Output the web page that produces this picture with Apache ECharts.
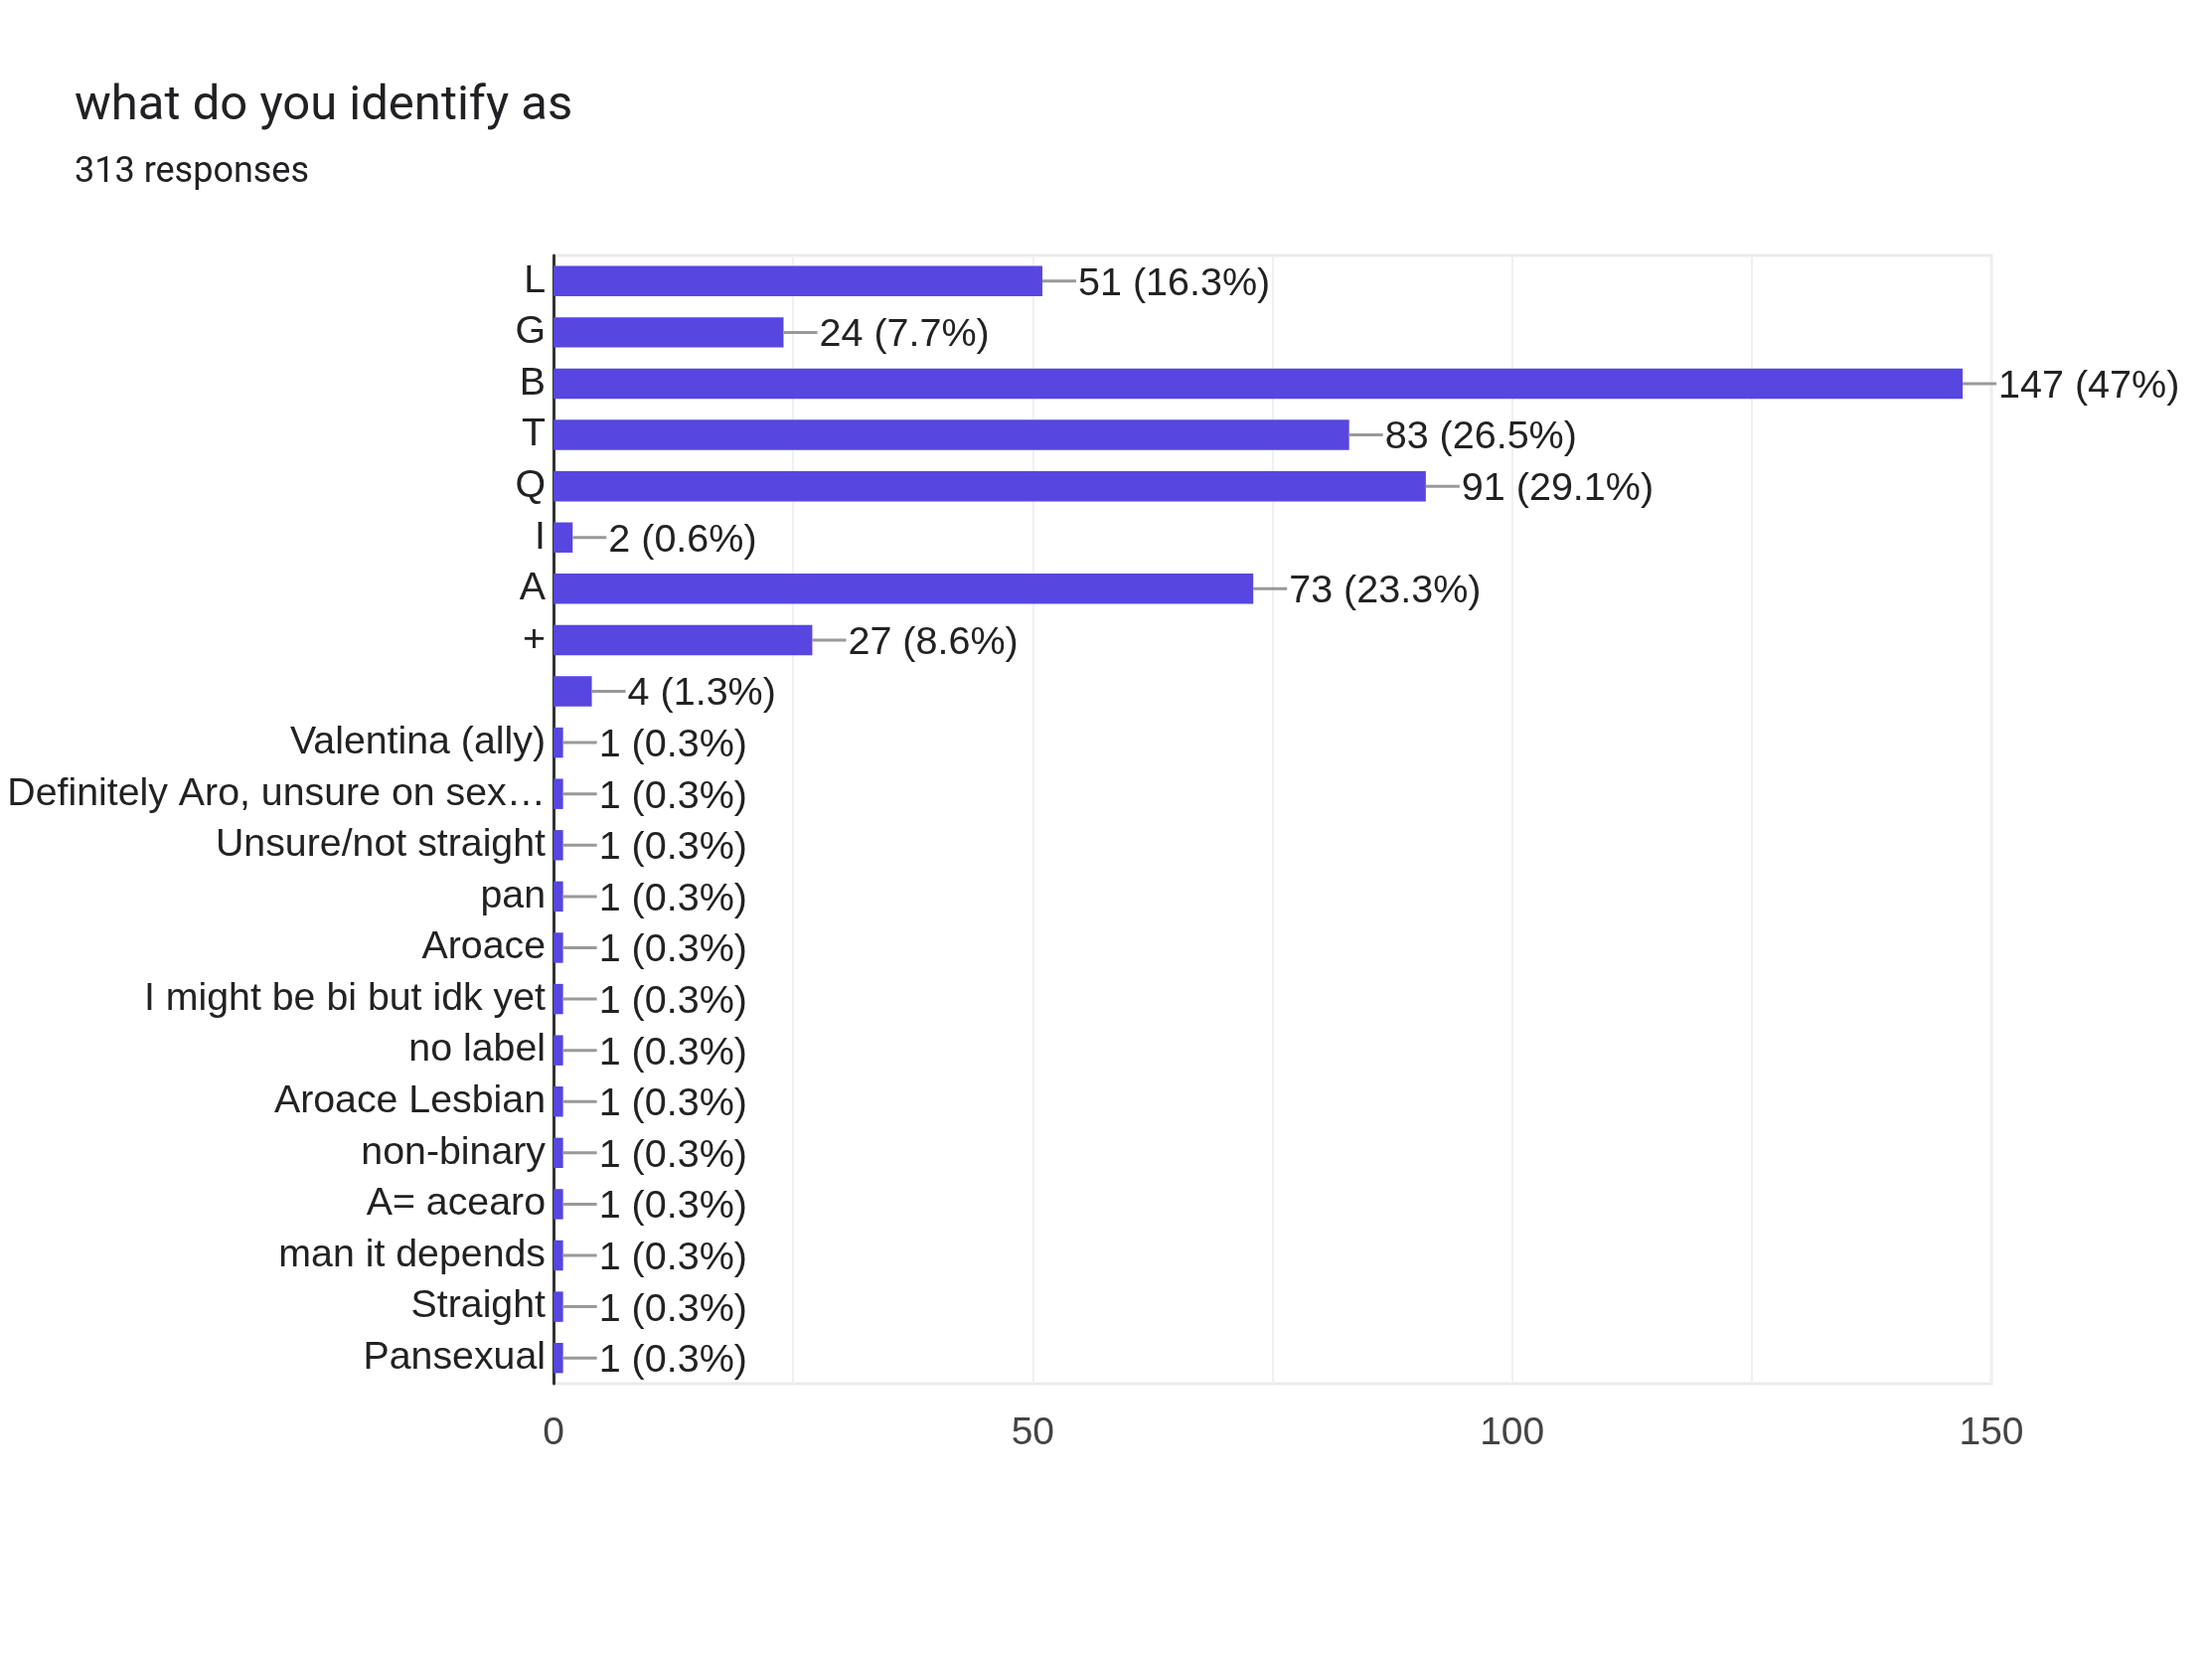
<!DOCTYPE html>
<html>
<head>
<meta charset="utf-8">
<script src="https://cdn.jsdelivr.net/npm/echarts@6/dist/echarts.min.js"></script>
<style>
  html, body { margin: 0; padding: 0; background: #fff; }
  #chart { width: 2226px; height: 1666px; }
</style>
</head>
<body>
<div id="chart"></div>
<script>
// answers, top to bottom
var categories = ['L', 'G', 'B', 'T', 'Q', 'I', 'A', '+', '',
  'Valentina (ally)', 'Definitely Aro, unsure on sex\u2026', 'Unsure/not straight',
  'pan', 'Aroace', 'I might be bi but idk yet', 'no label', 'Aroace Lesbian',
  'non-binary', 'A= acearo', 'man it depends', 'Straight', 'Pansexual'];
var counts = [51, 24, 147, 83, 91, 2, 73, 27, 4,
  1, 1, 1, 1, 1, 1, 1, 1, 1, 1, 1, 1, 1];
var percents = ['16.3', '7.7', '47', '26.5', '29.1', '0.6', '23.3', '8.6', '1.3',
  '0.3', '0.3', '0.3', '0.3', '0.3', '0.3', '0.3', '0.3', '0.3', '0.3', '0.3', '0.3', '0.3'];
var xTicks = [0, 50, 100, 150];

var chart = echarts.init(document.getElementById('chart'));

var labelFont = '"Liberation Sans", Arial, sans-serif';

// little gray line between bar end and its label
var leaderData = counts.map(function (v, i) { return [v, i]; });

var option = {
  backgroundColor: '#fff',
  animation: false,
  title: {
    text: 'what do you identify as',
    subtext: '313 responses',
    left: 70,
    top: 78,
    itemGap: 24,
    textStyle: { fontFamily: 'Roboto', fontWeight: 'normal', fontSize: 49, color: '#202124' },
    subtextStyle: { fontFamily: 'Roboto', fontSize: 36, color: '#202124' }
  },
  grid: {
    left: 557, right: 222, top: 257, bottom: 274,
    outerBoundsMode: 'none',
    show: true, borderColor: '#ebebeb', borderWidth: 3
  },
  xAxis: {
    type: 'value',
    min: 0, max: 150, interval: 25,
    axisLine: { show: false },
    axisTick: { show: false },
    splitLine: { lineStyle: { color: '#f0f0f0', width: 2 } },
    axisLabel: {
      fontFamily: labelFont, fontSize: 39, color: '#444', margin: 31,
      formatter: function (v) { return xTicks.indexOf(v) >= 0 ? String(v) : ''; }
    }
  },
  yAxis: {
    type: 'category',
    inverse: true,
    data: categories,
    axisLine: { show: true, lineStyle: { color: '#333', width: 3 } },
    axisTick: { show: false },
    axisLabel: {
      interval: 0, fontFamily: labelFont, fontSize: 39.3, color: '#222', margin: 8,
      padding: [10, 0, 0, 0]
    }
  },
  series: [
    {
      type: 'bar',
      data: counts,
      barCategoryGap: '41%',
      itemStyle: { color: '#5746E0' },
      label: {
        show: true,
        position: 'right',
        distance: 36,
        offset: [0, 3],
        fontFamily: labelFont,
        fontSize: 39.5,
        color: '#222',
        formatter: function (p) { return p.value + ' (' + percents[p.dataIndex] + '%)'; }
      }
    },
    {
      type: 'custom',
      data: leaderData,
      z: 5,
      renderItem: function (params, api) {
        var p = api.coord([api.value(0), api.value(1)]);
        return {
          type: 'line',
          shape: { x1: p[0], y1: p[1], x2: p[0] + 34, y2: p[1] },
          style: { stroke: '#999', lineWidth: 3 }
        };
      }
    }
  ]
};
chart.setOption(option);
</script>
</body>
</html>
